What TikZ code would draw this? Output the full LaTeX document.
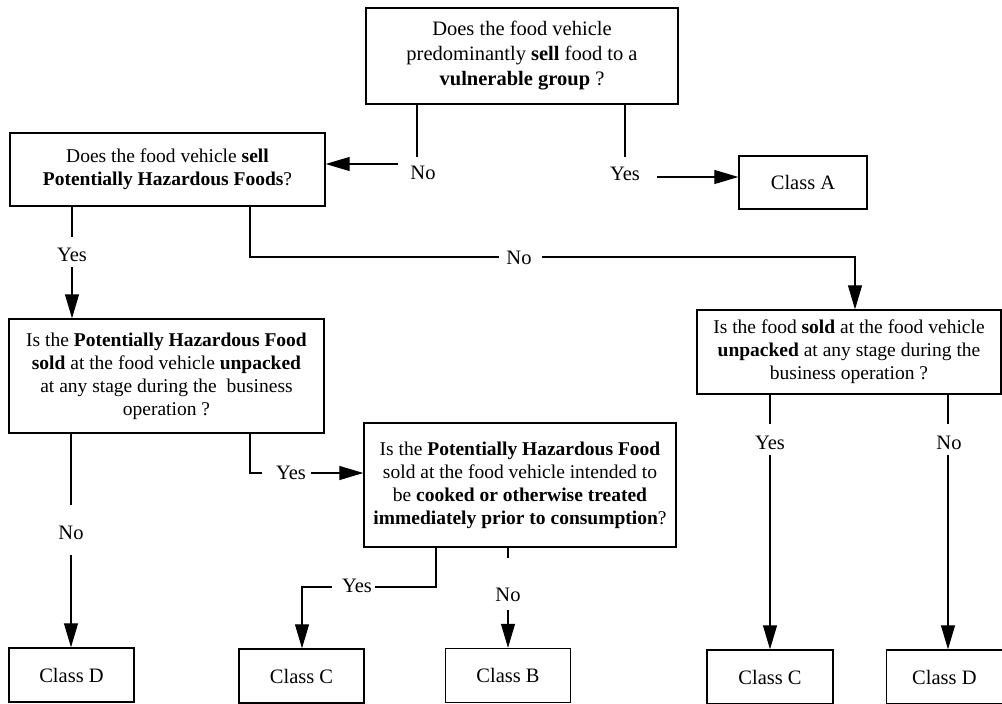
\documentclass[tikz,border=0pt]{standalone}
\usepackage{fontspec}
\setmainfont{Liberation Serif}
\usetikzlibrary{
	arrows.meta,
	positioning
}
\tikzset{
	>={Triangle[length=24pt, width=14pt]},
	flownode/.style={rectangle, draw, line width=1.4pt, align=center, inner sep=0pt, font=\fontsize{19.5}{23}\selectfont},
	classnode/.style={flownode, minimum width=125pt, minimum height=54pt, font=\fontsize{20.5}{24}\selectfont},
	flowedge/.style={line width=1.1pt},
	flowarrow/.style={flowedge, ->},
	flowlabel/.style={inner sep=0pt, font=\fontsize{20.5}{24}\selectfont}
}

\begin{document}
\begin{tikzpicture}[x=1pt, y=-1pt]
	\useasboundingbox (0,0) rectangle (1002,704);

	\node[flownode, minimum width=312pt, minimum height=96pt, font=\fontsize{20.5}{25}\selectfont] (q1) at (522,56) {Does the food vehicle\\predominantly \textbf{sell} food to a\\\textbf{vulnerable group} ?};
	\node[flownode, minimum width=315pt, minimum height=73pt] (q2) at (167.5,169.5) {Does the food vehicle \textbf{sell}\\\textbf{Potentially Hazardous Foods}?};
	\node[classnode, minimum width=128pt, minimum height=53pt] (classA) at (803,182.5) {Class A};
	\node[flownode, minimum width=315pt, minimum height=114pt] (q3) at (166.5,376) {Is the \textbf{Potentially Hazardous Food}\\\textbf{sold} at the food vehicle \textbf{unpacked}\\at any stage during the \ business\\operation ?};
	\node[flownode, minimum width=312pt, minimum height=124pt] (q4) at (520,485) {Is the \textbf{Potentially Hazardous Food}\\sold at the food vehicle intended to\\be \textbf{cooked or otherwise treated}\\\textbf{immediately prior to consumption}?};
	\node[flownode, minimum width=304pt, minimum height=84pt] (q5) at (849,352) {Is the food \textbf{sold} at the food vehicle\\\textbf{unpacked} at any stage during the\\business operation ?};
	\node[classnode] (classD1) at (71.5,675) {Class D};
	\node[classnode] (classC1) at (301.5,676) {Class C};
	\node[classnode] (classB) at (508,675.5) {Class B};
	\node[classnode, minimum width=126pt] (classC2) at (770,677) {Class C};
	\node[classnode, minimum width=116pt] (classD2) [right=52pt of classC2] {Class D};

	\node[flowlabel] (q1no) at (423,173) {No};
	\node[flowlabel] (q1yes) at (625,174) {Yes};
	\node[flowlabel] (q2yes) at (72,255) {Yes};
	\node[flowlabel] (q2no) at (519,258) {No};
	\node[flowlabel] (q3no) at (71,533) {No};
	\node[flowlabel] (q3yes) at (291,473) {Yes};
	\node[flowlabel] (q4yes) at (357,586) {Yes};
	\node[flowlabel] (q4no) at (508,595) {No};
	\node[flowlabel] (q5yes) at (770,443) {Yes};
	\node[flowlabel] (q5no) at (949,443) {No};

	% free ends of the connectors
	\coordinate (q1noend) at (417,157);
	\coordinate (q1nostart) at (398,164);
	\coordinate (q1yesend) at (625,157);
	\coordinate (q1yesstart) at (657,177);
	\coordinate (q2yesend) at (72,237);
	\coordinate (q2yesstart) at (72,267);
	\coordinate (q2nobend) at (250,257);
	\coordinate (q2noend) at (499,257);
	\coordinate (q2nostart) at (542,257);
	\coordinate (q2nocorner) at (855,257);
	\coordinate (q3noend) at (71,505);
	\coordinate (q3nostart) at (71,555);
	\coordinate (q3yesbend) at (250,473);
	\coordinate (q3yesend) at (262,473);
	\coordinate (q3yesstart) at (311,473);
	\coordinate (q4yesbend) at (436,587);
	\coordinate (q4yesend) at (375,587);
	\coordinate (q4yesstart) at (332,587);
	\coordinate (q4yescorner) at (302,587);
	\coordinate (q4noend) at (508,558);
	\coordinate (q4nostart) at (508,610);
	\coordinate (q5yesend) at (770,424);
	\coordinate (q5yesstart) at (770,455);
	\coordinate (q5noend) at (948,424);
	\coordinate (q5nostart) at (948,455);

	\draw[flowedge] (q1noend |- q1.south) -- (q1noend);
	\draw[flowarrow] (q1nostart) -- (q1nostart -| q2.east);
	\draw[flowedge] (q1yesend |- q1.south) -- (q1yesend);
	\draw[flowarrow] (q1yesstart) -- (q1yesstart -| classA.west);

	\draw[flowedge] (q2yesend |- q2.south) -- (q2yesend);
	\draw[flowarrow] (q2yesstart) -- (q2yesstart |- q3.north);
	\draw[flowedge] (q2nobend |- q2.south) -- (q2nobend) -- (q2noend);
	\draw[flowarrow] (q2nostart) -- (q2nocorner) -- (q2nocorner |- q5.north);

	\draw[flowedge] (q3noend |- q3.south) -- (q3noend);
	\draw[flowarrow] (q3nostart) -- (q3nostart |- classD1.north);
	\draw[flowedge] (q3yesbend |- q3.south) -- (q3yesbend) -- (q3yesend);
	\draw[flowarrow] (q3yesstart) -- (q3yesstart -| q4.west);

	\draw[flowedge] (q4yesbend |- q4.south) -- (q4yesbend) -- (q4yesend);
	\draw[flowarrow] (q4yesstart) -- (q4yescorner) -- (q4yescorner |- classC1.north);
	\draw[flowedge] (q4noend |- q4.south) -- (q4noend);
	\draw[flowarrow] (q4nostart) -- (q4nostart |- classB.north);

	\draw[flowedge] (q5yesend |- q5.south) -- (q5yesend);
	\draw[flowarrow] (q5yesstart) -- (q5yesstart |- classC2.north);
	\draw[flowedge] (q5noend |- q5.south) -- (q5noend);
	\draw[flowarrow] (q5nostart) -- (q5nostart |- classD2.north);
\end{tikzpicture}
\end{document}
